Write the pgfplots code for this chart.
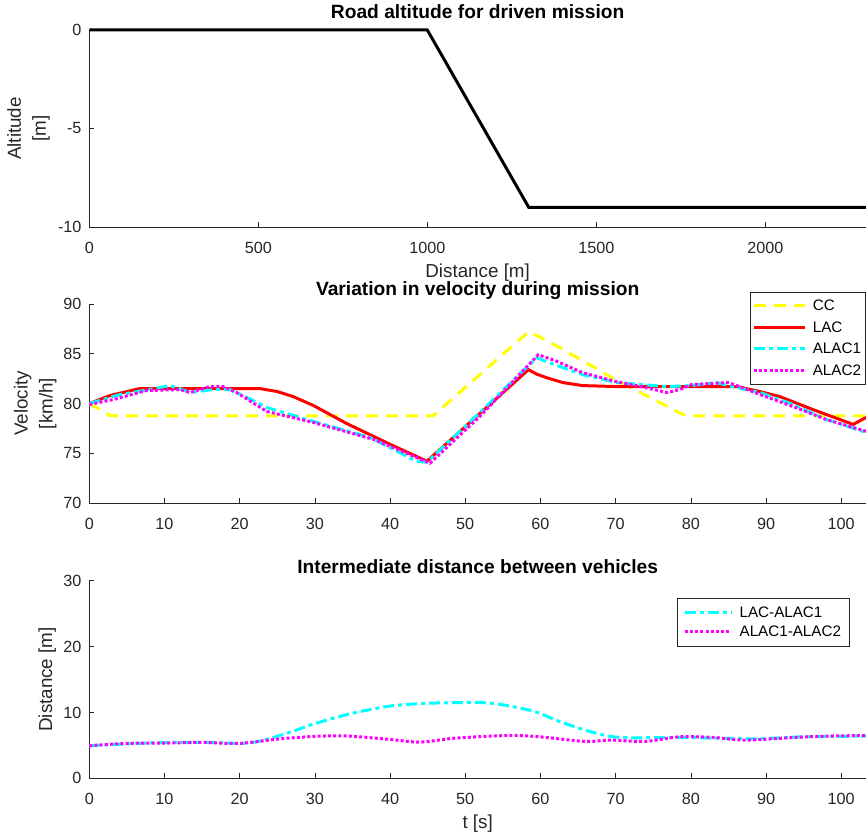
\documentclass[border=0pt]{standalone}
\usepackage{fontspec}
\setmainfont{Liberation Sans}
\usepackage{pgfplots}
\pgfplotsset{compat=1.18}
\definecolor{axgray}{HTML}{262626}
\definecolor{myyellow}{HTML}{FFFF00}
\definecolor{myred}{HTML}{FF0000}
\definecolor{mycyan}{HTML}{00FFFF}
\definecolor{mymag}{HTML}{FF00FF}
\pgfplotsset{
 myax/.style={
  scale only axis, width=776.7pt, anchor=south west,
  axis x line*=bottom, axis y line*=left,
  axis line style={axgray, line width=0.6pt, -},
  tick align=inside, major tick length=5pt,
  tick style={axgray, line width=0.6pt},
  tick label style={font=\fontsize{16.2}{16.2}\selectfont, text=axgray},
  /pgf/number format/assume math mode=true,
  /pgf/number format/1000 sep={},
  xticklabel style={anchor=north, inner sep=0pt, yshift=-14.7pt},
  yticklabel style={anchor=east, inner sep=0pt, xshift=-7.6pt},
  title style={at={(axis description cs:0.5,1)}, anchor=base,
     font=\bfseries\fontsize{19.2}{19.2}\selectfont, inner sep=0pt},
  label style={font=\fontsize{18.8}{25}\selectfont, text=axgray},
  clip=false,
 },
 cc/.style={myyellow, line width=3pt, dash pattern=on 11.7pt off 8.3pt},
 lac/.style={myred, line width=3pt},
 alac1/.style={mycyan, line width=3pt, dash pattern=on 11pt off 4pt on 4pt off 4pt},
 alac2/.style={mymag, line width=3pt, dash pattern=on 3pt off 2.2pt},
}
\begin{document}
\begin{tikzpicture}
\path[use as bounding box] (0,0) rectangle (866pt,838pt);
% ---------- top
\begin{axis}[myax, at={(89.3pt,611pt)}, height=197pt,
  xmin=0, xmax=2298, ymin=-10, ymax=0,
  xtick={0,500,1000,1500,2000}, ytick={-10,-5,0}, yticklabels={-10,-5,0},
  title={Road altitude for driven mission},
  title style={yshift=5.2pt},
  xlabel={Distance [m]},
  xlabel style={at={(axis description cs:0.5,0)}, anchor=base, yshift=-50.3pt, inner sep=0pt},
  ylabel={Altitude\\{[m]}},
  ylabel style={at={(axis description cs:-0.0784,0.5)}, anchor=center, align=center, inner sep=0pt},
]
\addplot[black, line width=3pt] coordinates {(0,0) (1000,0) (1300,-9) (2298,-9)};
\end{axis}
% ---------- middle
\begin{axis}[myax, at={(89.3pt,335pt)}, height=199pt,
  xmin=0, xmax=103.3, ymin=70, ymax=90,
  xtick={0,10,...,100}, ytick={70,75,80,85,90},
  title={Variation in velocity during mission},
  title style={yshift=2.2pt},
  ylabel={Velocity\\{[km/h]}},
  ylabel style={at={(axis description cs:-0.0695,0.5)}, anchor=center, align=center, inner sep=0pt},
  legend style={at={(axis description cs:1,1)}, anchor=north east, xshift=-0.7pt, yshift=12.3pt,
    draw=axgray, line width=0.6pt, fill=white, inner xsep=2pt, inner ysep=5.9pt, row sep=5.4pt,
    font=\fontsize{15.2}{15.2}\selectfont, cells={anchor=west},
    /tikz/every odd column/.append style={column sep=4.3pt}},
  legend image code/.code={\draw[#1] (0pt,0pt) -- (51pt,0pt);},
]
\addplot[cc] coordinates {(0,80) (2.75,78.8) (3.5,78.75) (45.7,78.75) (58.4,87.2) (59.9,86.7) (62.6,85.6) (67,83.7) (69.7,82.5) (72.5,81.4) (75.4,80.3) (78.1,79.2) (79.4,78.75) (103.3,78.75)};
\addlegendentry{CC}
\addplot[lac] coordinates {(0,80) (2.75,80.8) (6.7,81.5) (22.7,81.5) (25,81.2) (27.1,80.7) (29.8,79.8) (34.2,78.0) (40,75.9) (44.9,74.2) (51.95,79.0) (58.4,83.4) (59.5,82.95) (60.8,82.6) (63,82.1) (65.6,81.8) (70.1,81.7) (86.1,81.7) (89.2,81.2) (91.8,80.7) (96.2,79.4) (101.6,77.9) (103.3,78.6)};
\addlegendentry{LAC}
\addplot[alac1] coordinates {(0,80) (4.1,80.9) (8,81.4) (10.7,81.8) (12,81.5) (13.4,81.1) (16.5,81.4) (18.7,81.4) (21,80.6) (23.6,79.6) (29.8,78.2) (37.3,76.6) (43.5,74.2) (44.9,74.1) (51.95,79.1) (59.5,84.6) (60.8,84.2) (65.6,82.9) (70.1,82.1) (76.8,81.7) (80,81.8) (83.4,82.1) (86.1,81.6) (89.2,81.1) (93.6,79.9) (98,78.4) (103.3,77.1)};
\addlegendentry{ALAC1}
\addplot[alac2] coordinates {(0,79.9) (3.2,80.4) (7.6,81.3) (12.1,81.4) (13.4,81.1) (16,81.7) (17.8,81.7) (19.6,81.1) (23.6,79.2) (29.8,78.1) (37.8,76.4) (45.3,74.0) (51.95,78.7) (59.7,84.9) (62,84.3) (65.6,83.1) (70.1,82.2) (74,81.6) (76.8,81.1) (78.5,81.4) (80.1,81.9) (85,82.1) (86.5,81.7) (89.2,80.9) (93.6,79.7) (98,78.4) (103.3,77.2)};
\addlegendentry{ALAC2}
\end{axis}
% ---------- bottom
\begin{axis}[myax, at={(89.3pt,59.7pt)}, height=197.6pt,
  xmin=0, xmax=103.3, ymin=0, ymax=30,
  xtick={0,10,...,100}, ytick={0,10,20,30},
  title={Intermediate distance between vehicles},
  title style={yshift=1.5pt},
  xlabel={t [s]},
  xlabel style={at={(axis description cs:0.5,0)}, anchor=base, yshift=-49.7pt, inner sep=0pt},
  ylabel={Distance [m]},
  ylabel style={at={(axis description cs:-0.0541,0.5)}, anchor=center, inner sep=0pt},
  legend style={at={(axis description cs:1,1)}, anchor=north east, xshift=-16.7pt, yshift=-17.6pt,
    draw=axgray, line width=0.6pt, fill=white, inner xsep=6pt, inner ysep=6pt, row sep=3pt,
    font=\fontsize{15.2}{15.2}\selectfont, cells={anchor=west},
    /tikz/every odd column/.append style={column sep=4.6pt}},
  legend image code/.code={\draw[#1] (0pt,0pt) -- (46.7pt,0pt);},
]
\addplot[alac1, smooth] coordinates {(0,4.95) (8.7,5.4) (15,5.45) (20,5.3) (22,5.5) (24,6.05) (27,7.1) (30,8.3) (34.7,9.8) (40,10.97) (45.3,11.4) (52,11.5) (55.3,11.1) (59.3,10.1) (62.6,8.6) (66.6,7.1) (70.6,6.2) (78.5,6.2) (88.5,6.0) (95,6.3) (103.3,6.4)};
\addlegendentry{LAC-ALAC1}
\addplot[alac2, smooth] coordinates {(0,4.95) (5,5.3) (10.1,5.35) (15,5.45) (20,5.3) (25.4,6.0) (30.7,6.4) (34.7,6.4) (40,5.9) (44,5.5) (48.7,6.1) (55.9,6.5) (59.9,6.3) (65.9,5.6) (69.3,5.8) (73.9,5.6) (78.5,6.3) (83,6.2) (87.2,5.8) (93.8,6.2) (98,6.4) (103.3,6.5)};
\addlegendentry{ALAC1-ALAC2}
\end{axis}
\end{tikzpicture}
\end{document}
